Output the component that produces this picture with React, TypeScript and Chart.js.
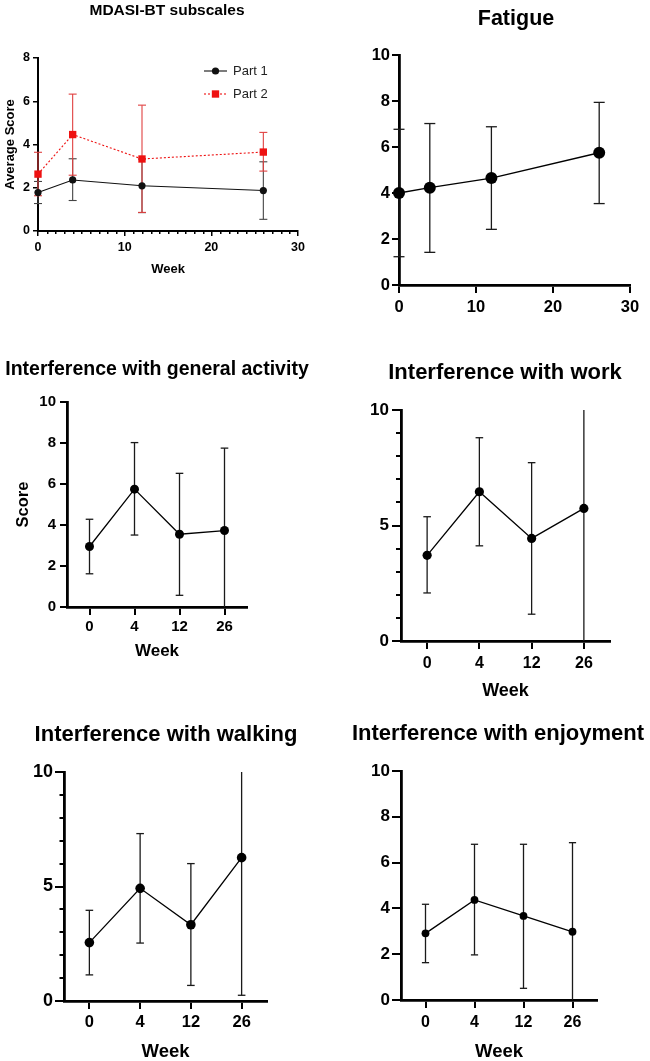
import React, { useEffect, useRef } from 'react';
import { Chart, registerables } from 'chart.js';

Chart.register(...registerables);

const FONT = '"Liberation Sans", Arial, Helvetica, sans-serif';

// ---------- data ----------
const weeks = [0, 4, 12, 26];
const weekLabels = ['0', '4', '12', '26'];

// MDASI-BT subscales
const part1Mean = [1.78, 2.36, 2.09, 1.87];
const part1Lower = [1.27, 1.41, 0.85, 0.54];
const part1Upper = [2.29, 3.34, 3.33, 3.2];
const part2Mean = [2.63, 4.46, 3.33, 3.65];
const part2Lower = [1.63, 2.58, 0.86, 2.77];
const part2Upper = [3.64, 6.33, 5.82, 4.56];

// Fatigue
const fatigueMean = [4.0, 4.23, 4.65, 5.75];
const fatigueLower = [1.23, 1.42, 2.42, 3.54];
const fatigueUpper = [6.77, 7.02, 6.88, 7.94];

// Interference with general activity
const generalMean = [2.95, 5.75, 3.55, 3.73];
const generalLower = [1.62, 3.51, 0.57, -0.29];
const generalUpper = [4.28, 8.02, 6.52, 7.75];

// Interference with work
const workMean = [3.71, 6.46, 4.44, 5.74];
const workLower = [2.08, 4.12, 1.16, -0.5];
const workUpper = [5.38, 8.8, 7.72, 11.98];

// Interference with walking
const walkingMean = [2.55, 4.92, 3.33, 6.26];
const walkingLower = [1.14, 2.53, 0.68, 0.25];
const walkingUpper = [3.96, 7.31, 6.0, 12.27];

// Interference with enjoyment
const enjoyMean = [2.91, 4.37, 3.67, 2.98];
const enjoyLower = [1.63, 1.97, 0.51, -0.91];
const enjoyUpper = [4.18, 6.8, 6.8, 6.87];

// ---------- panel layout ----------
type Series = {
  label: string; mean: number[]; lower: number[]; upper: number[];
  color: string; errColor: string; errWidth: number; dash?: number[];
  pointStyle: string; radius: number; lineWidth: number;
};
type Panel = {
  key: string; box: number[]; area: number[];
  title: string; titleX: number; titleY: number; titleSize: number;
  xType: 'linear' | 'category';
  xTickSize: number; xTickLen: number; xTickPad: number; xMinor?: { step: number; len: number };
  yMax: number; yStep: number; yTickSize: number; yTickLen: number; yTickPad: number; yMinor?: { step: number; len: number };
  yTitle?: string; yTitleSize?: number; yTitleCx?: number;
  xTitle?: string; xTitleSize?: number; xTitleMid?: number;
  axisWidth: number; tickWidth: number; capHalf: number;
  series: Series[]; legend?: boolean;
};

const blackSeries = (label: string, mean: number[], lower: number[], upper: number[], radius: number): Series => ({
  label, mean, lower, upper, color: '#000', errColor: '#1a1a1a', errWidth: 1.3,
  pointStyle: 'circle', radius, lineWidth: 1.3,
});

const panels: Panel[] = [
  {
    key: 'mdasi', box: [0, 0, 325, 290], area: [38, 58, 298, 231],
    title: 'MDASI-BT subscales', titleX: 167, titleY: 15, titleSize: 15.5,
    xType: 'linear', xTickSize: 12.5, xTickLen: 5, xTickPad: 4.5, xMinor: { step: 1, len: 3 },
    yMax: 8, yStep: 2, yTickSize: 12.5, yTickLen: 5, yTickPad: 3,
    yTitle: 'Average Score', yTitleSize: 13, yTitleCx: 10,
    xTitle: 'Week', xTitleSize: 13, xTitleMid: 269,
    axisWidth: 2, tickWidth: 1.5, capHalf: 4,
    series: [
      { label: 'Part 1', mean: part1Mean, lower: part1Lower, upper: part1Upper, color: '#111', errColor: '#444',
        errWidth: 1.1, pointStyle: 'circle', radius: 3.6, lineWidth: 1.1 },
      { label: 'Part 2', mean: part2Mean, lower: part2Lower, upper: part2Upper, color: '#ee1111', errColor: '#e04040',
        errWidth: 1.1, dash: [2, 2], pointStyle: 'rect', radius: 5.2, lineWidth: 1.1 },
    ],
    legend: true,
  },
  {
    key: 'fatigue', box: [325, 0, 325, 320], area: [399, 55, 630, 285],
    title: 'Fatigue', titleX: 191, titleY: 25, titleSize: 21.5,
    xType: 'linear', xTickSize: 16.5, xTickLen: 8, xTickPad: 5,
    yMax: 10, yStep: 2, yTickSize: 16.5, yTickLen: 7, yTickPad: 2,
    yTitle: 'Score', yTitleSize: 18, yTitleCx: 27,
    axisWidth: 2.8, tickWidth: 2, capHalf: 5.5,
    series: [blackSeries('Fatigue', fatigueMean, fatigueLower, fatigueUpper, 6)],
  },
  {
    key: 'general', box: [0, 320, 325, 345], area: [67, 402, 247, 607],
    title: 'Interference with general activity', titleX: 157, titleY: 55, titleSize: 19.5,
    xType: 'category', xTickSize: 15, xTickLen: 8, xTickPad: 3,
    yMax: 10, yStep: 2, yTickSize: 15, yTickLen: 7, yTickPad: 4,
    yTitle: 'Score', yTitleSize: 16.5, yTitleCx: 23,
    xTitle: 'Week', xTitleSize: 17, xTitleMid: 651,
    axisWidth: 2.8, tickWidth: 2, capHalf: 3.8,
    series: [blackSeries('General activity', generalMean, generalLower, generalUpper, 4.5)],
  },
  {
    key: 'work', box: [325, 320, 325, 395], area: [401, 410, 610, 641],
    title: 'Interference with work', titleX: 180, titleY: 59, titleSize: 22,
    xType: 'category', xTickSize: 16, xTickLen: 8, xTickPad: 4.5,
    yMax: 10, yStep: 5, yTickSize: 17, yTickLen: 9, yTickPad: 3, yMinor: { step: 1, len: 5 },
    xTitle: 'Week', xTitleSize: 18, xTitleMid: 691.5,
    axisWidth: 2.8, tickWidth: 2, capHalf: 3.8,
    series: [blackSeries('Work', workMean, workLower, workUpper, 4.6)],
  },
  {
    key: 'walking', box: [0, 660, 325, 410], area: [64, 772, 267, 1001],
    title: 'Interference with walking', titleX: 166, titleY: 81, titleSize: 22,
    xType: 'category', xTickSize: 16.5, xTickLen: 8, xTickPad: 3.5,
    yMax: 10, yStep: 5, yTickSize: 18, yTickLen: 9, yTickPad: 2, yMinor: { step: 1, len: 4.5 },
    xTitle: 'Week', xTitleSize: 18.5, xTitleMid: 1052,
    axisWidth: 2.8, tickWidth: 2, capHalf: 3.8,
    series: [blackSeries('Walking', walkingMean, walkingLower, walkingUpper, 4.8)],
  },
  {
    key: 'enjoyment', box: [325, 660, 325, 410], area: [401, 771, 597, 1000],
    title: 'Interference with enjoyment', titleX: 173, titleY: 80, titleSize: 22,
    xType: 'category', xTickSize: 16, xTickLen: 8, xTickPad: 4.5,
    yMax: 10, yStep: 2, yTickSize: 17, yTickLen: 9, yTickPad: 2,
    xTitle: 'Week', xTitleSize: 18.5, xTitleMid: 1052,
    axisWidth: 2.8, tickWidth: 2, capHalf: 3.6,
    series: [blackSeries('Enjoyment', enjoyMean, enjoyLower, enjoyUpper, 3.9)],
  },
];

// ---------- plugins ----------
const titlePlugin = (text: string, x: number, y: number, size: number) => ({
  id: 'panelTitle',
  afterDraw(chart: any) {
    const ctx = chart.ctx;
    ctx.save();
    ctx.font = `bold ${size}px ${FONT}`;
    ctx.fillStyle = '#000';
    ctx.textAlign = 'center';
    ctx.textBaseline = 'alphabetic';
    ctx.fillText(text, x, y);
    ctx.restore();
  },
});

const errorBarPlugin = (capHalf: number) => ({
  id: 'errorBars',
  beforeDatasetsDraw(chart: any) {
    const ctx = chart.ctx;
    const area = chart.chartArea;
    const ys = chart.scales.y;
    chart.data.datasets.forEach((ds: any, i: number) => {
      const meta = chart.getDatasetMeta(i);
      ctx.save();
      ctx.beginPath();
      ctx.rect(0, area.top, chart.width, area.bottom - area.top);
      ctx.clip();
      ctx.strokeStyle = ds.errColor;
      ctx.lineWidth = ds.errWidth;
      meta.data.forEach((pt: any, j: number) => {
        const lo = ds.errLower[j];
        const hi = ds.errUpper[j];
        const x = pt.x;
        ctx.beginPath();
        ctx.moveTo(x, ys.getPixelForValue(lo));
        ctx.lineTo(x, ys.getPixelForValue(hi));
        ctx.stroke();
        [lo, hi].forEach((v: number) => {
          if (v >= ys.min && v <= ys.max) {
            const yy = ys.getPixelForValue(v);
            ctx.beginPath();
            ctx.moveTo(x - capHalf, yy);
            ctx.lineTo(x + capHalf, yy);
            ctx.stroke();
          }
        });
      });
      ctx.restore();
    });
  },
});

const minorTickPlugin = (axisId: string, step: number, len: number, width: number) => ({
  id: 'minorTicks_' + axisId,
  afterDraw(chart: any) {
    const s = chart.scales[axisId];
    const ctx = chart.ctx;
    const majors = s.ticks.map((t: any) => t.value);
    ctx.save();
    ctx.strokeStyle = '#000';
    ctx.lineWidth = width;
    for (let k = 0; s.min + k * step <= s.max + 1e-9; k++) {
      const v = s.min + k * step;
      if (majors.some((m: number) => Math.abs(m - v) < 1e-9)) continue;
      const p = Math.round(s.getPixelForValue(v)) + 0.5 * (width % 2);
      ctx.beginPath();
      if (s.isHorizontal()) {
        ctx.moveTo(p, s.top);
        ctx.lineTo(p, s.top + len);
      } else {
        ctx.moveTo(s.right - len, p);
        ctx.lineTo(s.right, p);
      }
      ctx.stroke();
    }
    ctx.restore();
  },
});

const lineLegendPlugin = (x0: number, x1: number, textX: number, rows: number[], size: number) => ({
  id: 'lineLegend',
  afterDraw(chart: any) {
    const ctx = chart.ctx;
    chart.data.datasets.forEach((ds: any, i: number) => {
      const y = rows[i];
      ctx.save();
      ctx.strokeStyle = ds.borderColor;
      ctx.lineWidth = ds.borderWidth;
      ctx.setLineDash(ds.borderDash || []);
      ctx.beginPath();
      ctx.moveTo(x0, y);
      ctx.lineTo(x1, y);
      ctx.stroke();
      ctx.setLineDash([]);
      ctx.fillStyle = ds.pointBackgroundColor;
      const cx = (x0 + x1) / 2;
      if (ds.pointStyle === 'rect') {
        const h = Math.SQRT1_2 * ds.pointRadius;
        ctx.fillRect(cx - h, y - h, 2 * h, 2 * h);
      } else {
        ctx.beginPath();
        ctx.arc(cx, y, ds.pointRadius, 0, Math.PI * 2);
        ctx.fill();
      }
      ctx.fillStyle = '#222';
      ctx.font = `${size}px ${FONT}`;
      ctx.textAlign = 'left';
      ctx.textBaseline = 'middle';
      ctx.fillText(ds.label, textX, y + 0.5);
      ctx.restore();
    });
  },
});

// ---------- config ----------
function buildConfig(p: Panel): any {
  const [bl, bt, bw, bh] = p.box;
  const [al, at, ar, ab] = p.area;
  const yWidth = al - bl;
  const xHeight = bt + bh - ab;

  const datasets = p.series.map((s) => ({
    label: s.label,
    data: p.xType === 'linear' ? weeks.map((w, j) => ({ x: w, y: s.mean[j] })) : s.mean,
    borderColor: s.color,
    backgroundColor: s.color,
    borderWidth: s.lineWidth,
    borderDash: s.dash || [],
    pointStyle: s.pointStyle,
    pointRadius: s.radius,
    pointHoverRadius: s.radius,
    pointBackgroundColor: s.color,
    pointBorderColor: s.color,
    pointBorderWidth: 0,
    tension: 0,
    clip: false,
    errLower: s.lower,
    errUpper: s.upper,
    errColor: s.errColor,
    errWidth: s.errWidth,
  }));

  const grid = (len: number) => ({
    display: true,
    drawOnChartArea: false,
    drawTicks: true,
    tickLength: len,
    tickWidth: p.tickWidth,
    tickColor: '#000',
    lineWidth: p.tickWidth,
    color: '#000',
  });
  const border = { display: true, color: '#000', width: p.axisWidth };

  const xScale: any = {
    type: p.xType,
    offset: p.xType === 'category',
    grid: grid(p.xTickLen),
    border,
    ticks: {
      font: { family: FONT, size: p.xTickSize, weight: 'bold' },
      color: '#000',
      padding: p.xTickPad,
      maxRotation: 0,
      autoSkip: false,
    },
    title: p.xTitle
      ? {
          display: true,
          text: p.xTitle,
          color: '#000',
          font: { family: FONT, size: p.xTitleSize, weight: 'bold' },
          padding: { top: 0, bottom: bt + bh - (p.xTitleMid as number) - 0.6 * (p.xTitleSize as number) },
        }
      : { display: false },
    afterFit: (s: any) => { s.height = xHeight; },
  };
  if (p.xType === 'linear') {
    xScale.min = 0;
    xScale.max = 30;
    xScale.ticks.stepSize = 10;
  }

  const yScale: any = {
    type: 'linear',
    min: 0,
    max: p.yMax,
    grid: grid(p.yTickLen),
    border,
    ticks: {
      stepSize: p.yStep,
      font: { family: FONT, size: p.yTickSize, weight: 'bold' },
      color: '#000',
      padding: p.yTickPad,
    },
    title: p.yTitle
      ? {
          display: true,
          text: p.yTitle,
          color: '#000',
          font: { family: FONT, size: p.yTitleSize, weight: 'bold' },
          padding: { top: (p.yTitleCx as number) - bl - 0.6 * (p.yTitleSize as number), bottom: 0 },
        }
      : { display: false },
    afterFit: (s: any) => { s.width = yWidth; },
  };

  const plugins: any[] = [errorBarPlugin(p.capHalf), titlePlugin(p.title, p.titleX, p.titleY, p.titleSize)];
  if (p.xMinor) plugins.push(minorTickPlugin('x', p.xMinor.step, p.xMinor.len, 1.5));
  if (p.yMinor) plugins.push(minorTickPlugin('y', p.yMinor.step, p.yMinor.len, 2));
  if (p.legend) plugins.push(lineLegendPlugin(204, 227, 233, [71, 94], 13));

  return {
    type: 'line',
    data: { labels: p.xType === 'category' ? weekLabels : undefined, datasets },
    options: {
      animation: false,
      responsive: false,
      devicePixelRatio: 1,
      events: [],
      layout: { padding: { left: 0, top: at - bt, right: bl + bw - ar, bottom: 0 } },
      plugins: { legend: { display: false }, tooltip: { enabled: false }, title: { display: false } },
      scales: { x: xScale, y: yScale },
    },
    plugins,
  };
}

export default function App() {
  const refs = useRef<(HTMLCanvasElement | null)[]>([]);

  useEffect(() => {
    const charts = panels.map((p, i) => new Chart(refs.current[i] as HTMLCanvasElement, buildConfig(p)));
    return () => charts.forEach((c) => c.destroy());
  }, []);

  return (
    <div
      style={{
        position: 'absolute',
        left: 0,
        top: 0,
        width: 650,
        height: 1061,
        overflow: 'hidden',
        background: '#fff',
      }}
    >
      {panels.map((p, i) => (
        <canvas
          key={p.key}
          ref={(el) => { refs.current[i] = el; }}
          width={p.box[2]}
          height={p.box[3]}
          style={{ position: 'absolute', left: p.box[0], top: p.box[1], width: p.box[2], height: p.box[3], display: 'block' }}
        />
      ))}
    </div>
  );
}
